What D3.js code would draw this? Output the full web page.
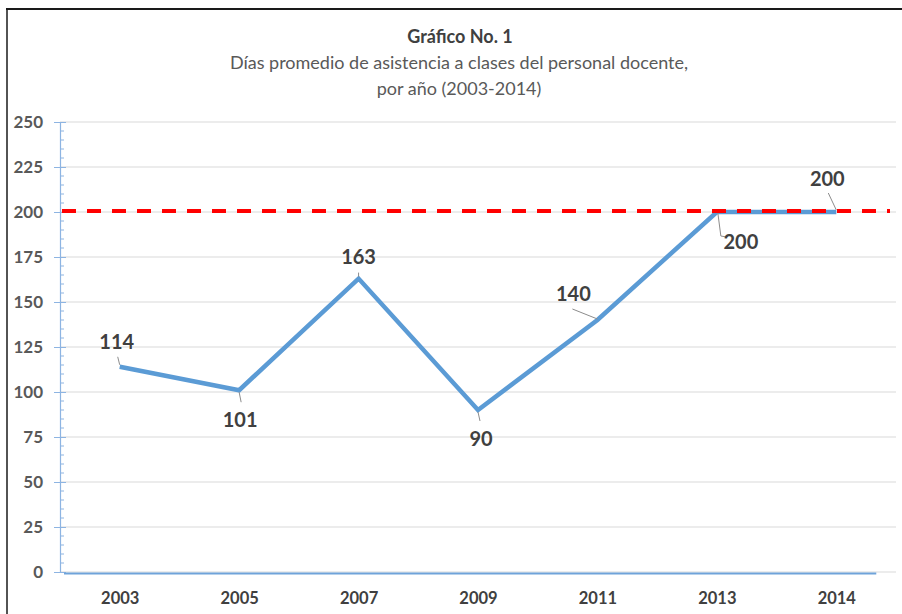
<!DOCTYPE html>
<html><head><meta charset="utf-8">
<script src="https://cdn.jsdelivr.net/npm/d3@7"></script>
<style>body{margin:0;background:#fff}svg{display:block}</style>
</head><body>
<svg id="chart" width="902" height="614"></svg>
<script>
const categories = ["2003","2005","2007","2009","2011","2013","2014"];
const values = [114, 101, 163, 90, 140, 200, 200];
const referenceValue = 200.5;
const yTicks = [0, 25, 50, 75, 100, 125, 150, 175, 200, 225, 250];
const titleText = "Gráfico No. 1";
const subtitleLines = ["Días promedio de asistencia a clases del personal docente,", "por año (2003-2014)"];

// label placement (layout only)
const labelLayout = [
  {dx:-3, dy:-18, leader:[[-2,-10],[0,-2]]},
  {dx:1, dy:37, leader:[[0,2],[2,12]]},
  {dx:0, dy:-15, leader:[[0,-6],[0,-2]]},
  {dx:3, dy:36, leader:[[0,2],[2,11]]},
  {dx:-24, dy:-19, leader:[[-25,-11],[0,-1]]},
  {dx:24, dy:37, leader:[[1,1],[4,24],[10,25]]},
  {dx:-9, dy:-26, leader:[[-8,-19],[0,-2]]}
];

const svg = d3.select("#chart");
const font = "Lato, 'Open Sans', sans-serif";
const mLeft = 60, mRight = 896, mTop = 122, mBottom = 572;

const x = d3.scalePoint().domain(categories).range([mLeft, mRight]).padding(0.5);
const y = d3.scaleLinear().domain([0, 250]).range([mBottom, mTop]);

// frame
svg.append("line").attr("x1",6).attr("x2",902).attr("y1",9).attr("y2",9).attr("stroke","#1a1a1a").attr("stroke-width",2);
svg.append("line").attr("x1",7).attr("x2",7).attr("y1",8).attr("y2",614).attr("stroke","#1a1a1a").attr("stroke-width",1.5);

// titles
svg.append("text").attr("x",460).attr("y",43).attr("text-anchor","middle")
  .attr("font-family",font).attr("font-weight","bold").attr("font-size",18).attr("fill","#404040").text(titleText);
subtitleLines.forEach((t,i)=>{
  svg.append("text").attr("x",459).attr("y",69+i*26).attr("text-anchor","middle")
    .attr("font-family",font).attr("font-size",18).attr("fill","#595959").text(t);
});

// gridlines
svg.append("g").selectAll("line").data(yTicks).join("line")
  .attr("x1",mLeft).attr("x2",mRight).attr("y1",d=>y(d)).attr("y2",d=>y(d))
  .attr("stroke","#d9d9d9").attr("stroke-width",1);

// y axis
const yAxis = d3.axisLeft(y).tickValues(yTicks).tickSize(6).tickPadding(8);
const gy = svg.append("g").attr("transform",`translate(${mLeft},0)`).call(yAxis);
gy.select(".domain").attr("stroke","#8db4e2").attr("stroke-width",1.2);
gy.selectAll(".tick line").attr("stroke","#8db4e2").attr("x2",-6).attr("x1",6);
gy.selectAll(".tick text").attr("font-family",font).attr("font-weight","bold").attr("font-size",17).attr("fill","#595959").attr("x",-17);
// minor ticks
const minor = d3.range(0, 251, 5).filter(d=>d%25!==0);
svg.append("g").selectAll("line").data(minor).join("line")
  .attr("x1",mLeft).attr("x2",mLeft+4).attr("y1",d=>y(d)).attr("y2",d=>y(d))
  .attr("stroke","#8db4e2").attr("stroke-width",1);

// x axis labels
const xAxis = d3.axisBottom(x).tickSize(0).tickPadding(20);
const gx = svg.append("g").attr("transform",`translate(0,${mBottom})`).call(xAxis);
gx.select(".domain").remove();
gx.selectAll(".tick text").attr("font-family",font).attr("font-weight","bold").attr("font-size",16.5).attr("fill","#404040");

// zero baseline (blue)
svg.append("line").attr("x1",mLeft+4).attr("x2",x(categories[categories.length-1])+40)
  .attr("y1",y(0)+1.5).attr("y2",y(0)+1.5).attr("stroke","#6fa3da").attr("stroke-width",2.2);

// data line
const line = d3.line().x((d,i)=>x(categories[i])).y(d=>y(d));
svg.append("path").datum(values).attr("d",line).attr("fill","none")
  .attr("stroke","#5b9bd5").attr("stroke-width",4.5).attr("stroke-linejoin","miter");

// reference dashed line
svg.append("line").attr("x1",mLeft+2).attr("x2",890).attr("y1",y(referenceValue)).attr("y2",y(referenceValue))
  .attr("stroke","#ff0000").attr("stroke-width",4).attr("stroke-dasharray","14,11");

// leaders and labels
values.forEach((v,i)=>{
  const px = x(categories[i]), py = y(v), L = labelLayout[i];
  svg.append("path").attr("d", d3.line()(L.leader.map(p=>[px+p[0],py+p[1]])))
    .attr("fill","none").attr("stroke","#8c8c8c").attr("stroke-width",1);
  svg.append("text").attr("x",px+L.dx).attr("y",py+L.dy).attr("text-anchor","middle")
    .attr("font-family",font).attr("font-weight","bold").attr("font-size",20).attr("fill","#404040").text(v);
});
</script>
</body></html>
